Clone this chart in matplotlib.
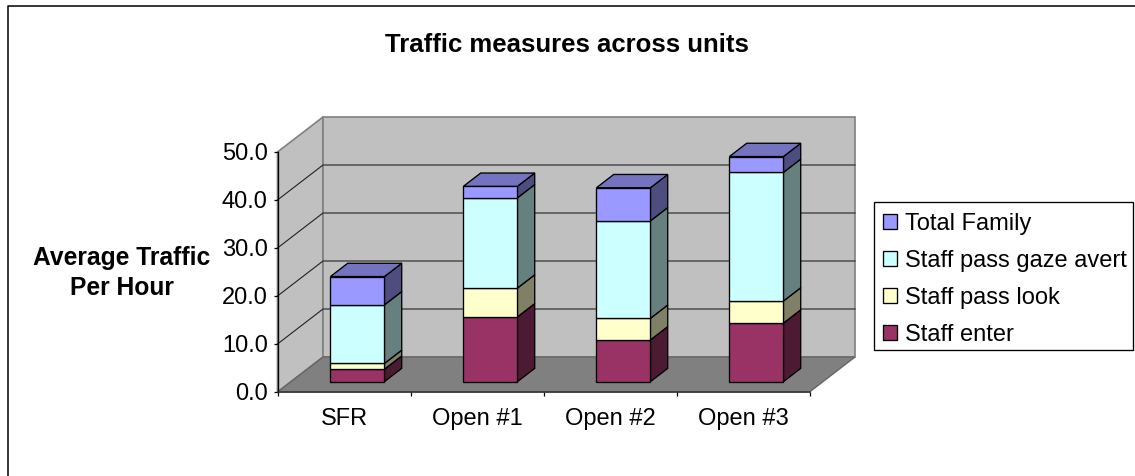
import matplotlib
matplotlib.use('Agg')
import matplotlib.pyplot as plt
from matplotlib.lines import Line2D
from matplotlib.patches import Patch, Polygon, Rectangle

plt.rcParams['font.family'] = ['Liberation Sans', 'DejaVu Sans']

units = ['SFR', 'Open #1', 'Open #2', 'Open #3']
staffEnter = [2.6, 13.5, 8.7, 12.2]
staffLook = [1.2, 6.0, 4.5, 4.6]
staffAvert = [12.2, 18.8, 20.3, 26.8]
totalFamily = [5.9, 2.4, 6.9, 3.3]
yTicks = [0, 10, 20, 30, 40, 50]

names = ['Staff enter', 'Staff pass look', 'Staff pass gaze avert', 'Total Family']
series = [staffEnter, staffLook, staffAvert, totalFamily]
faceColors = ['#993366', '#FFFFCC', '#CCFFFF', '#9999FF']
sideColors = ['#4D1A33', '#808066', '#668080', '#4D4D80']
topColor = '#7373BF'

W, H = 1135, 476
fig = plt.figure(figsize=(W / 100, H / 100), dpi=100, facecolor='white')
# front plane of the fake 3d box
ax = fig.add_axes([277.5 / W, 1 - 392 / H, 532 / W, 240 / H])
ax.set_xlim(0, 4)
ax.set_ylim(0, 50)
ax.patch.set_visible(False)

# oblique projection, depth 0 is the front plane and 1 the back wall
depthX = 45.5 / 133
depthY = 35 / 4.8
barWidth = 0.406
barFront = 0.295
barBack = 0.675


def proj(x, y, d):
    return (x + d * depthX, y + d * depthY)


def poly(points, color, edge='black', lw=0.95, z=2):
    ax.add_patch(Polygon(points, closed=True, facecolor=color, edgecolor=edge,
                         linewidth=lw, joinstyle='miter', clip_on=False, zorder=z))


# walls and floor
poly([proj(0, 0, 0), proj(0, 50, 0), proj(0, 50, 1), proj(0, 0, 1)], '#C0C0C0', edge='#808080', lw=1.2, z=1)
poly([proj(0, 0, 1), proj(4, 0, 1), proj(4, 50, 1), proj(0, 50, 1)], '#C0C0C0', edge='#808080', lw=1.2, z=1)
poly([proj(0, 0, 0), proj(4, 0, 0), proj(4, 0, 1), proj(0, 0, 1)], '#808080', edge='#666666', lw=1.0, z=1)

for v in yTicks[1:-1]:
    a, b, c = proj(0, v, 0), proj(0, v, 1), proj(4, v, 1)
    ax.plot([a[0], b[0], c[0]], [a[1], b[1], c[1]], color='#222222', lw=0.8, clip_on=False, zorder=1.5)

# stacked bars
for i in range(len(units)):
    left = i + 0.5 - barWidth / 2
    right = i + 0.5 + barWidth / 2
    bottom = 0
    for s in range(len(series)):
        top = bottom + series[s][i]
        poly([proj(right, bottom, barFront), proj(right, bottom, barBack),
              proj(right, top, barBack), proj(right, top, barFront)], sideColors[s])
        poly([proj(left, bottom, barFront), proj(right, bottom, barFront),
              proj(right, top, barFront), proj(left, top, barFront)], faceColors[s])
        bottom = top
    poly([proj(left, bottom, barFront), proj(right, bottom, barFront),
          proj(right, bottom, barBack), proj(left, bottom, barBack)], topColor)

# axes
for side in ['top', 'right']:
    ax.spines[side].set_visible(False)
ax.spines['left'].set_linewidth(0.95)
ax.spines['bottom'].set_linewidth(1.1)
ax.spines['bottom'].set_color('#333333')
ax.set_yticks(yTicks)
ax.set_yticklabels(['%.1f' % v for v in yTicks], fontsize=17)
ax.set_xticks([0, 1, 2, 3, 4])
ax.set_xticklabels([])
ax.set_xticks([0.5, 1.5, 2.5, 3.5], minor=True)
ax.set_xticklabels(units, minor=True, fontsize=17)
ax.tick_params(axis='x', which='minor', length=0, pad=11.2)
ax.tick_params(axis='x', which='major', length=3, width=0.9, direction='out')
ax.tick_params(axis='y', length=3, width=0.9, direction='out', pad=4)

fig.text(567 / W, 1 - 44.5 / H, 'Traffic measures across units', fontsize=18.5, fontweight='bold',
         ha='center', va='center')
fig.text(122 / W, 1 - 273 / H, 'Average Traffic\nPer Hour', fontsize=17.7, fontweight='bold',
         ha='center', va='center', linespacing=1.27)

# legend box is drawn by hand, the legend pads would push it off the picture
fig.add_artist(Rectangle((874.5 / W, 1 - 350 / H), 258.5 / W, 148 / H, transform=fig.transFigure,
                         facecolor='white', edgecolor='black', linewidth=0.95))

# legend goes top to bottom in reverse of the stack
handles = [Patch(facecolor=faceColors[s], edgecolor='black', linewidth=0.95, label=names[s])
           for s in [3, 2, 1, 0]]
leg = fig.legend(handles=handles, loc='upper left', bbox_to_anchor=(882.5 / W, 1 - 213 / H),
                 bbox_transform=fig.transFigure, fontsize=17, frameon=False,
                 borderaxespad=0, borderpad=0,
                 labelspacing=0.63, handlelength=0.62, handleheight=0.62, handletextpad=0.34)
leg.set_zorder(5)

# chart area border, only left and top are inside the picture
fig.add_artist(Line2D([7.5 / W, 7.5 / W, 1], [0, 1 - 6 / H, 1 - 6 / H], color='black', lw=1.1))

fig.savefig('out.png', dpi=100)
